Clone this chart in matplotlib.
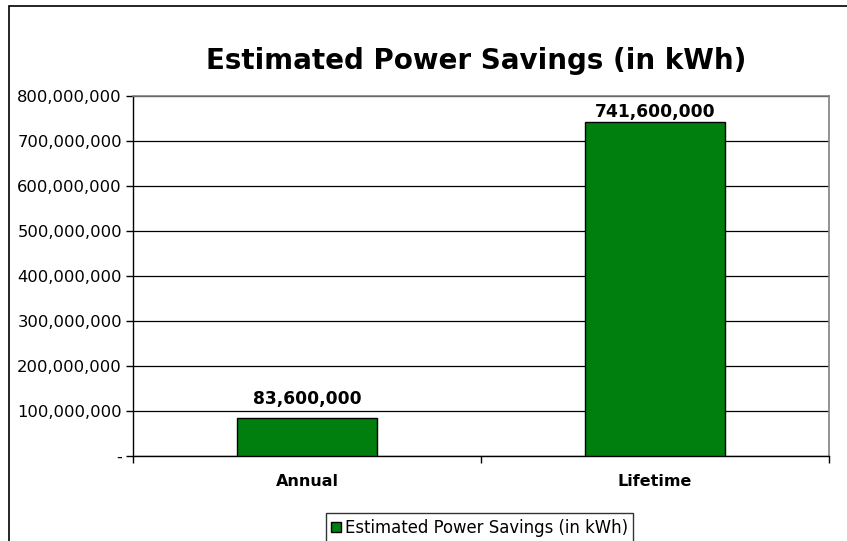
import matplotlib
matplotlib.use("Agg")
import matplotlib.pyplot as plt
from matplotlib.patches import Rectangle, Patch
from matplotlib.ticker import FuncFormatter, FixedLocator

categories = ["Annual", "Lifetime"]
values = [83600000, 741600000]
series_name = "Estimated Power Savings (in kWh)"
title = "Estimated Power Savings (in kWh)"
yticks = [0, 100000000, 200000000, 300000000, 400000000, 500000000, 600000000, 700000000, 800000000]

plt.rcParams['font.family'] = ['DejaVu Sans']

W, H = 847, 541
fig = plt.figure(figsize=(W / 100, H / 100), dpi=100)
ax = fig.add_axes([133 / W, 1 - 456 / H, (829 - 133) / W, (456 - 96) / H])

x = list(range(len(categories)))
bars = ax.bar(x, values, width=0.4, color="#007F0E", edgecolor="black", linewidth=1, zorder=3)

ax.set_xlim(-0.5, len(categories) - 0.5)
ax.set_ylim(0, 800000000)
ax.set_yticks(yticks)

def fmt(v, pos):
    if v == 0:
        return "-"
    return f"{int(v):,}"

ax.yaxis.set_major_formatter(FuncFormatter(fmt))
ax.tick_params(axis='y', length=5, width=1, labelsize=11.8, pad=3, color='black')
ax.set_xticks(x)
ax.set_xticklabels(categories, fontweight='bold', fontsize=11.5)
ax.tick_params(axis='x', which='major', length=0, pad=13)
ax.xaxis.set_minor_locator(FixedLocator([-0.5, 0.5, 1.5]))
ax.tick_params(axis='x', which='minor', length=5, width=1, color='black')

ax.grid(axis='y', color='black', linewidth=0.9, zorder=0)
ax.set_axisbelow(True)
for s in ['top', 'right']:
    ax.spines[s].set_color('#808080')
    ax.spines[s].set_linewidth(1.2)
for s in ['left', 'bottom']:
    ax.spines[s].set_color('black')
    ax.spines[s].set_linewidth(1)

label_offsets = [7.3, 1.0]
for b, v, off in zip(bars, values, label_offsets):
    ax.annotate(f"{v:,}", (b.get_x() + b.get_width() / 2, v), xytext=(0, off),
                textcoords='offset points', ha='center', va='bottom',
                fontsize=12.3, fontweight='bold')

fig.text(476 / W, 1 - 61 / H, title, ha='center', va='center', fontsize=20, fontweight='bold')

handle = Patch(facecolor="#007F0E", edgecolor="black", linewidth=1)
leg = fig.legend([handle], [series_name], loc='upper center',
                 bbox_to_anchor=(479.5 / W, 1 - 513 / H), fontsize=11.9,
                 frameon=True, fancybox=False, edgecolor='black',
                 handlelength=0.6, handleheight=0.6, handletextpad=0.2,
                 borderpad=0.35, borderaxespad=0)
leg.get_frame().set_linewidth(1)

fig.add_artist(Rectangle((9 / W, -0.1), 1.2, 1.1 - 6 / H, transform=fig.transFigure,
                         fill=False, edgecolor='black', linewidth=1.2, clip_on=False))

fig.savefig("out.png", dpi=100)
